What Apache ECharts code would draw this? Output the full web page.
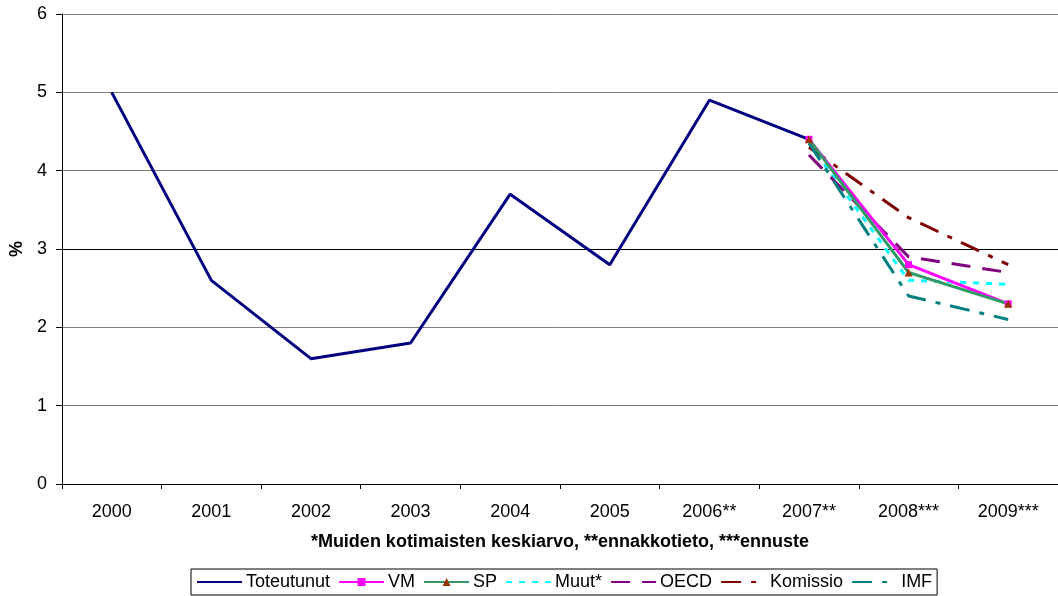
<!DOCTYPE html>
<html>
<head>
<meta charset="utf-8">
<script src="https://cdn.jsdelivr.net/npm/echarts@6/dist/echarts.min.js"></script>
<style>
	html, body { margin: 0; padding: 0; background: #fff; }
	#chart { width: 1058px; height: 596px; }
</style>
</head>
<body>
<div id="chart"></div>
<script>
	// vuodet
	const years = ['2000', '2001', '2002', '2003', '2004', '2005', '2006**', '2007**', '2008***', '2009***']
	const toteutunut = [5.0, 2.6, 1.6, 1.8, 3.7, 2.8, 4.9, 4.4, null, null]
	const vm = [null, null, null, null, null, null, null, 4.4, 2.8, 2.3]
	const sp = [null, null, null, null, null, null, null, 4.4, 2.7, 2.3]
	const muut = [null, null, null, null, null, null, null, 4.35, 2.6, 2.55]
	const oecd = [null, null, null, null, null, null, null, 4.2, 2.9, 2.7]
	const komissio = [null, null, null, null, null, null, null, 4.3, 3.4, 2.8]
	const imf = [null, null, null, null, null, null, null, 4.35, 2.4, 2.1]
	const yTicks = [0, 1, 2, 3, 4, 5, 6]

	const font = 'Liberation Sans, Arial, sans-serif'

	function lineSeries(name, data, color, type, extra) {
		return Object.assign({
			name: name,
			type: 'line',
			data: data,
			symbol: 'none',
			connectNulls: false,
			lineStyle: { color: color, width: 3, type: type },
			itemStyle: { color: color }
		}, extra || {})
	}

	// legend: no marker for series without symbols
	const noMark = { opacity: 0 }

	const myChart = echarts.init(document.getElementById('chart'), null, { renderer: 'canvas' })
	myChart.setOption({
		animation: false,
		textStyle: { fontFamily: font },
		grid: { left: 60, top: 14, width: 1007, height: 470, containLabel: false },
		xAxis: {
			type: 'category',
			data: years,
			boundaryGap: true,
			axisLine: { lineStyle: { color: '#000', width: 1 } },
			axisTick: { show: true, inside: false, length: 5, alignWithLabel: false, lineStyle: { color: '#000' } },
			axisLabel: { color: '#000', fontSize: 18, margin: 19, fontFamily: font },
			name: '*Muiden kotimaisten keskiarvo, **ennakkotieto, ***ennuste',
			nameLocation: 'middle',
			nameGap: 49,
			nameTextStyle: { color: '#000', fontSize: 18, fontWeight: 'bold', fontFamily: font }
		},
		yAxis: {
			type: 'value',
			min: yTicks[0],
			max: yTicks[yTicks.length - 1],
			interval: 1,
			name: '%',
			nameLocation: 'middle',
			nameGap: 33,
			nameRotate: 90,
			nameTextStyle: { color: '#000', fontSize: 18, fontWeight: 'bold', fontFamily: font },
			axisLine: { show: true, lineStyle: { color: '#000', width: 1 } },
			axisTick: { show: true, length: 6, lineStyle: { color: '#000' } },
			axisLabel: { color: '#000', fontSize: 18, margin: 15, fontFamily: font },
			splitLine: { show: true, lineStyle: { color: ['#000', '#808080', '#808080', '#000', '#808080', '#808080', '#808080'], width: 1 } }
		},
		legend: {
			top: 569,
			left: 191,
			itemWidth: 45,
			itemHeight: 10,
			itemGap: 8,
			borderColor: '#000',
			borderWidth: 1,
			borderRadius: 0,
			padding: [4, 5, 4, 5],
			textStyle: { color: '#000', fontSize: 18, fontFamily: font, padding: [0, 0, 0, -1] },
			data: [
				{ name: 'Toteutunut', itemStyle: noMark },
				{ name: 'VM' },
				{ name: 'SP' },
				{ name: 'Muut*', itemStyle: noMark },
				{ name: 'OECD', itemStyle: noMark },
				{ name: 'Komissio', itemStyle: noMark },
				{ name: 'IMF', itemStyle: noMark }
			]
		},
		series: [
			lineSeries('Toteutunut', toteutunut, '#000080', 'solid'),
			lineSeries('Muut*', muut, '#00FFFF', [6, 7]),
			lineSeries('OECD', oecd, '#800080', [19, 12]),
			lineSeries('Komissio', komissio, '#800000', [20, 10, 5, 10]),
			lineSeries('IMF', imf, '#008080', [20, 10, 5, 10]),
			lineSeries('VM', vm, '#FF00FF', 'solid', { symbol: 'rect', symbolSize: 7, showSymbol: true, itemStyle: { color: '#FF00FF' } }),
			lineSeries('SP', sp, '#339966', 'solid', { symbol: 'triangle', symbolSize: 8, showSymbol: true, itemStyle: { color: '#993300' } })
		]
	})
</script>
</body>
</html>
